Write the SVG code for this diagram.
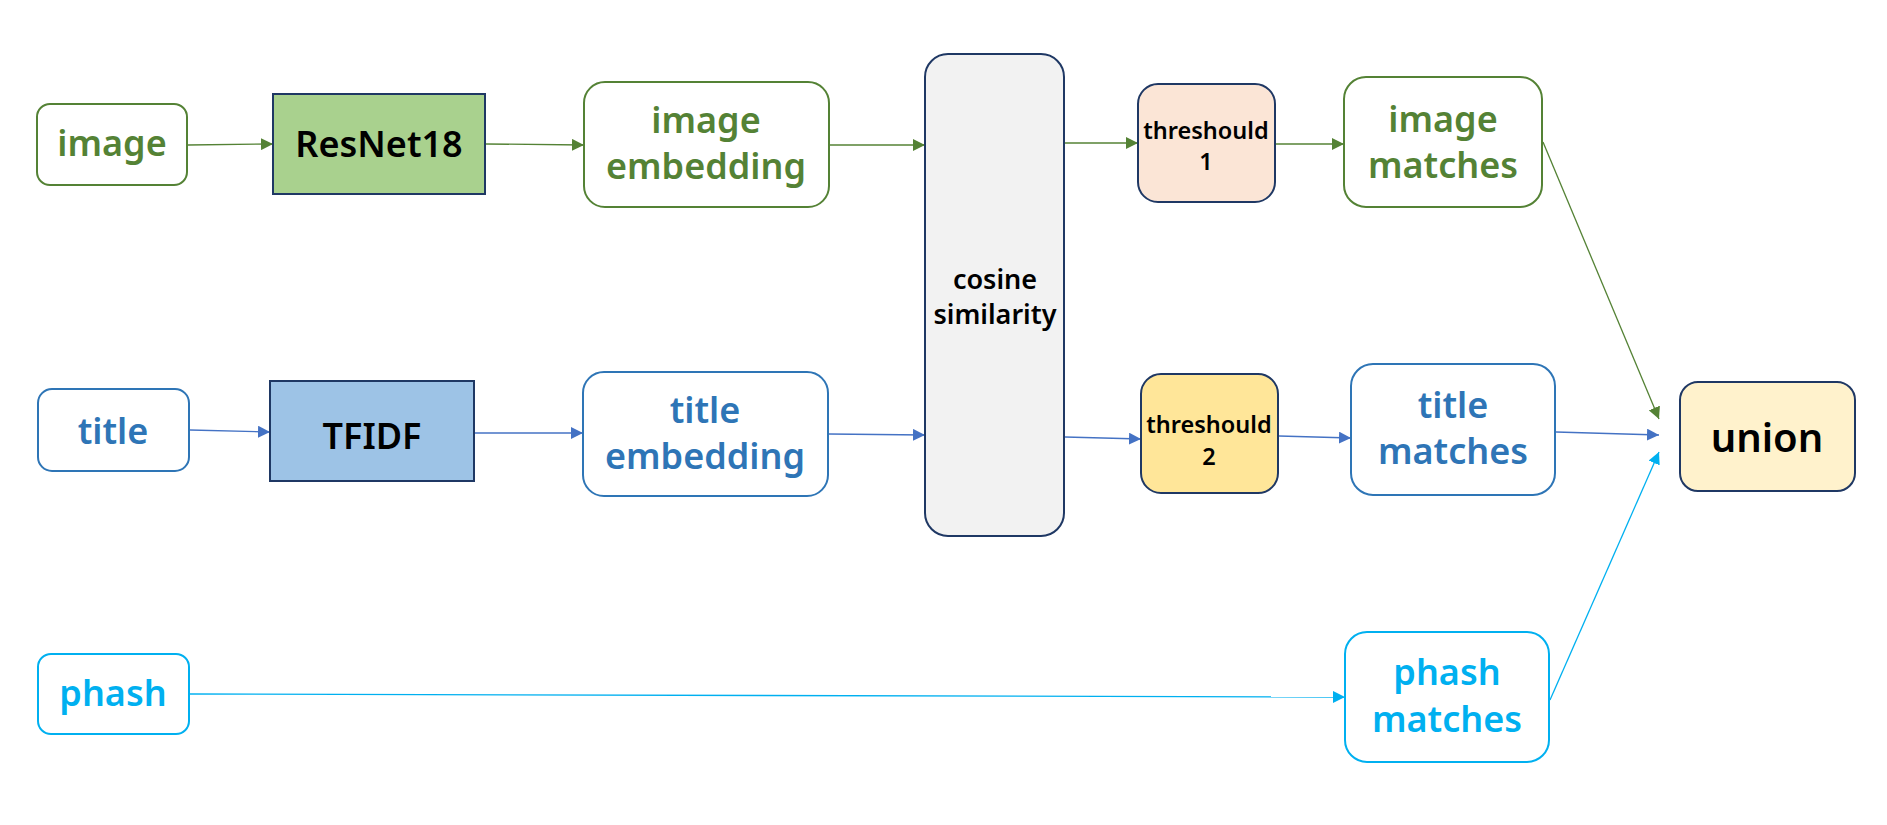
<svg xmlns="http://www.w3.org/2000/svg" width="1887" height="825" viewBox="0 0 1887 825">
<style>
text{font-family:"Noto Sans","Open Sans","Liberation Sans",sans-serif;font-weight:600;text-anchor:middle}
.g{fill:#548235}.b{fill:#2E75B6}.c{fill:#00B0F0}.k{fill:#000}
.big{font-size:36px}.mid{font-size:27px}.sm{font-size:23.5px}.un{font-size:40px}
.bx{fill:#fff;stroke-width:2}
.sg{stroke:#548235}.sb{stroke:#2E75B6}.sc{stroke:#00B0F0}.sn{stroke:#1F3864}
.ln{fill:none;stroke-width:1.3}
</style>
<defs>
<marker id="ag" markerUnits="userSpaceOnUse" markerWidth="12" markerHeight="12" refX="12" refY="6" orient="auto"><path d="M0,0L12,6L0,12z" fill="#548235"/></marker>
<marker id="ab" markerUnits="userSpaceOnUse" markerWidth="12" markerHeight="12" refX="12" refY="6" orient="auto"><path d="M0,0L12,6L0,12z" fill="#4472C4"/></marker>
<marker id="ac" markerUnits="userSpaceOnUse" markerWidth="12" markerHeight="12" refX="12" refY="6" orient="auto"><path d="M0,0L12,6L0,12z" fill="#00B0F0"/></marker>
</defs>
<rect width="1887" height="825" fill="#fff"/>
<g id="connectors">
<line class="ln" stroke="#548235" x1="188" y1="145" x2="273" y2="144" marker-end="url(#ag)"/>
<line class="ln" stroke="#548235" x1="486" y1="144" x2="584" y2="145" marker-end="url(#ag)"/>
<line class="ln" stroke="#548235" x1="830" y1="145" x2="925" y2="145" marker-end="url(#ag)"/>
<line class="ln" stroke="#548235" x1="1065" y1="143" x2="1138" y2="143" marker-end="url(#ag)"/>
<line class="ln" stroke="#548235" x1="1276" y1="144" x2="1344" y2="144" marker-end="url(#ag)"/>
<line class="ln" stroke="#548235" x1="1543" y1="142" x2="1659" y2="419" marker-end="url(#ag)"/>
<line class="ln" stroke="#4472C4" x1="190" y1="430" x2="270" y2="432" marker-end="url(#ab)"/>
<line class="ln" stroke="#4472C4" x1="475" y1="433" x2="583" y2="433" marker-end="url(#ab)"/>
<line class="ln" stroke="#4472C4" x1="829" y1="434" x2="925" y2="435" marker-end="url(#ab)"/>
<line class="ln" stroke="#4472C4" x1="1065" y1="437" x2="1141" y2="439" marker-end="url(#ab)"/>
<line class="ln" stroke="#4472C4" x1="1279" y1="436" x2="1351" y2="438" marker-end="url(#ab)"/>
<line class="ln" stroke="#4472C4" x1="1556" y1="432" x2="1659" y2="435" marker-end="url(#ab)"/>
<line class="ln" stroke="#00B0F0" x1="190" y1="694" x2="1345" y2="697" marker-end="url(#ac)"/>
<line class="ln" stroke="#00B0F0" x1="1550" y1="700" x2="1659" y2="452" marker-end="url(#ac)"/>
</g>
<g id="image">
<rect class="bx sg" x="37" y="104" width="150" height="81" rx="13"/>
<text class="big g" x="112" y="156">image</text>
</g>
<g id="resnet18">
<rect x="273" y="94" width="212" height="100" fill="#A9D18E" stroke="#1F3864" stroke-width="2"/>
<text class="big k" x="379" y="157">ResNet18</text>
</g>
<g id="image-embedding">
<rect class="bx sg" x="584" y="82" width="245" height="125" rx="21"/>
<text class="big g" x="706" y="133">image</text>
<text class="big g" x="706" y="179">embedding</text>
</g>
<g id="cosine-similarity">
<rect x="925" y="54" width="139" height="482" rx="23" fill="#F2F2F2" stroke="#1F3864" stroke-width="2"/>
<text class="mid k" x="995" y="289">cosine</text>
<text class="mid k" x="995" y="324">similarity</text>
</g>
<g id="threshould-1">
<rect x="1138" y="84" width="137" height="118" rx="20" fill="#FBE5D6" stroke="#1F3864" stroke-width="2"/>
<text class="sm k" x="1206" y="139">threshould</text>
<text class="sm k" x="1206" y="170">1</text>
</g>
<g id="image-matches">
<rect class="bx sg" x="1344" y="77" width="198" height="130" rx="22"/>
<text class="big g" x="1443" y="132">image</text>
<text class="big g" x="1443" y="178">matches</text>
</g>
<g id="title">
<rect class="bx sb" x="38" y="389" width="151" height="82" rx="14"/>
<text class="big b" x="113" y="444">title</text>
</g>
<g id="tfidf">
<rect x="270" y="381" width="204" height="100" fill="#9DC3E6" stroke="#1F3864" stroke-width="2"/>
<text class="big k" x="372" y="449">TFIDF</text>
</g>
<g id="title-embedding">
<rect class="bx sb" x="583" y="372" width="245" height="124" rx="21"/>
<text class="big b" x="705" y="423">title</text>
<text class="big b" x="705" y="469">embedding</text>
</g>
<g id="threshould-2">
<rect x="1141" y="374" width="137" height="119" rx="20" fill="#FFE699" stroke="#1F3864" stroke-width="2"/>
<text class="sm k" x="1209" y="433">threshould</text>
<text class="sm k" x="1209" y="465">2</text>
</g>
<g id="title-matches">
<rect class="bx sb" x="1351" y="364" width="204" height="131" rx="22"/>
<text class="big b" x="1453" y="418">title</text>
<text class="big b" x="1453" y="464">matches</text>
</g>
<g id="union">
<rect x="1680" y="382" width="175" height="109" rx="18" fill="#FFF2CC" stroke="#1F3864" stroke-width="2"/>
<text class="un k" x="1767" y="452">union</text>
</g>
<g id="phash">
<rect class="bx sc" x="38" y="654" width="151" height="80" rx="13"/>
<text class="big c" x="113" y="706">phash</text>
</g>
<g id="phash-matches">
<rect class="bx sc" x="1345" y="632" width="204" height="130" rx="22"/>
<text class="big c" x="1447" y="685">phash</text>
<text class="big c" x="1447" y="732">matches</text>
</g>
</svg>
